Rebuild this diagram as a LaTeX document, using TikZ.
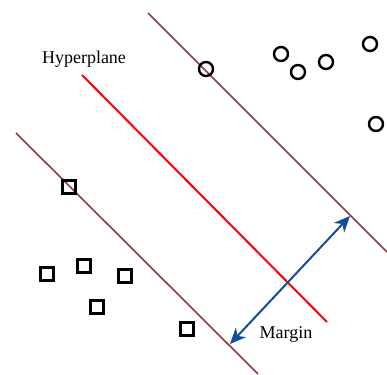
\documentclass[tikz,border=0pt]{standalone}
\usepackage{fontspec}
\setmainfont{Liberation Serif}
\usetikzlibrary{arrows.meta, backgrounds}

\definecolor{bound}{RGB}{140,62,62}
\definecolor{marginblue}{RGB}{18,78,150}

\begin{document}
\begin{tikzpicture}[
            x=1pt, y=-1pt,
            background rectangle/.style={fill=white},
            show background rectangle,
            semithick
        ]

        \tikzstyle{circ}=[
            draw=black,
            shape=circle,
            line width=2.4pt,
            minimum size=14pt,
            inner sep=0pt
        ]
        \tikzstyle{sq}=[
            draw=black,
            shape=rectangle,
            line width=2.4pt,
            minimum size=13pt,
            inner sep=0pt
        ]
        \tikzstyle{label}=[
            font=\fontsize{18}{20}\selectfont,
            inner sep=0pt
        ]
        \tikzstyle{marginarrow}=[
            arrows={{Stealth[length=16pt,width=14pt,inset=5pt]}-{Stealth[length=16pt,width=14pt,inset=5pt]}},
            draw=marginblue,
            line width=2pt
        ]

        \useasboundingbox (0,0) rectangle (387,374);

        % Margin boundaries and the separating hyperplane
        \coordinate (top1) at (148,13);
        \coordinate (top2) at (387,252);
        \coordinate (hyp1) at (82,75);
        \coordinate (hyp2) at (327,322);
        \coordinate (bot1) at (16,133);
        \coordinate (bot2) at (258,374);

        \draw[bound, line width=1.6pt] (top1) -- (top2);
        \draw[bound, line width=1.6pt] (bot1) -- (bot2);
        \draw[red, line width=2pt] (hyp1) -- (hyp2);

        % Class one
        \node[circ] (c1) at (206,69) {};
        \node[circ] (c2) at (281,54) {};
        \node[circ] (c3) at (298,72) {};
        \node[circ] (c4) at (326,62) {};
        \node[circ] (c5) at (370,44) {};
        \node[circ] (c6) at (376,124) {};

        % Class two
        \node[sq] (s1) at (69,187) {};
        \node[sq] (s2) at (47,274) {};
        \node[sq] (s3) at (84,266) {};
        \node[sq] (s4) at (125,276) {};
        \node[sq] (s5) at (97,307) {};
        \node[sq] (s6) at (187,329) {};

        % Labels
        \node[label] (hyp) at (84,59) {Hyperplane};
        \node[label] (mar) at (286,334) {Margin};

        % Margin arrow
        \coordinate (mtop) at (350,216);
        \coordinate (mbot) at (230,344);
        \draw[marginarrow] (mbot) -- (mtop);

    \end{tikzpicture}
\end{document}
